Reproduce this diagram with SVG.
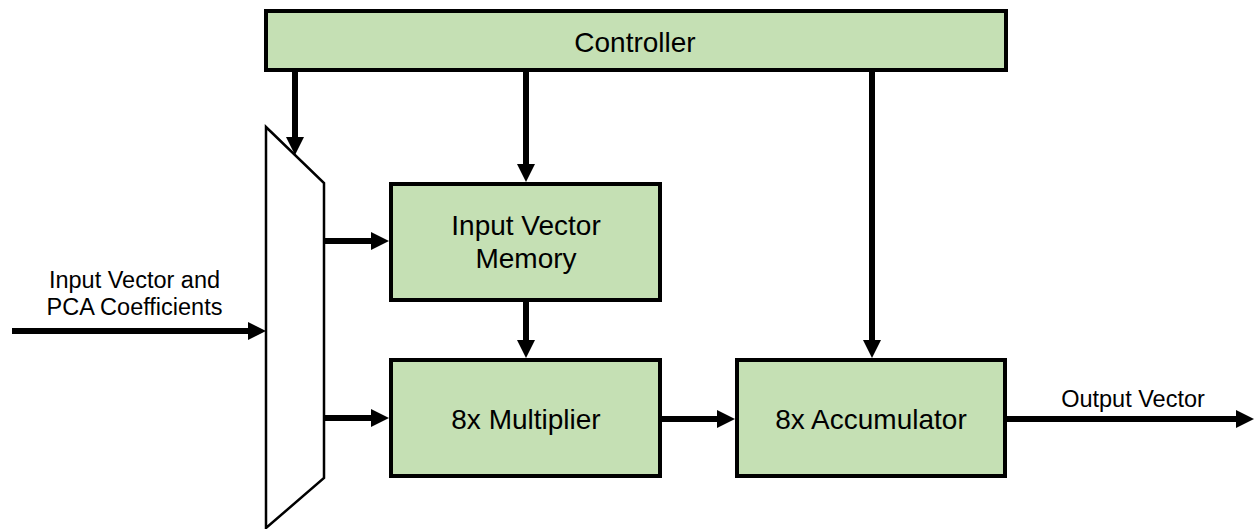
<svg xmlns="http://www.w3.org/2000/svg" width="1254" height="529" viewBox="0 0 1254 529">
  <style>
    .block { fill: #C5E0B4; stroke: #000; stroke-width: 4; }
    .mux { fill: #fff; stroke: #000; stroke-width: 2.5; stroke-linejoin: miter; }
    .wire { fill: none; stroke: #000; stroke-width: 6; marker-end: url(#head); }
    .big { font-family: "Liberation Sans", Arial, sans-serif; font-size: 28px; fill: #000; text-anchor: middle; }
    .small { font-family: "Liberation Sans", Arial, sans-serif; font-size: 23.5px; fill: #000; text-anchor: middle; }
  </style>
  <defs>
    <marker id="head" markerUnits="userSpaceOnUse" markerWidth="18" markerHeight="18" refX="0" refY="9" orient="auto" overflow="visible">
      <path d="M0,0 L18,9 L0,18 Z" fill="#000"/>
    </marker>
  </defs>
  <rect width="1254" height="529" fill="#fff"/>

  <g id="controller">
    <rect class="block" x="266" y="11" width="740" height="59"/>
    <text class="big" x="635" y="52">Controller</text>
  </g>

  <g id="mux">
    <polygon class="mux" points="266,127 324,183 324,478 266,528"/>
  </g>

  <g id="input-vector-memory">
    <rect class="block" x="391" y="184" width="269" height="116"/>
    <text class="big" x="526" y="235">Input Vector</text>
    <text class="big" x="526" y="268">Memory</text>
  </g>

  <g id="multiplier">
    <rect class="block" x="391" y="360" width="269" height="116"/>
    <text class="big" x="526" y="429">8x Multiplier</text>
  </g>

  <g id="accumulator">
    <rect class="block" x="737" y="360" width="268" height="116"/>
    <text class="big" x="871" y="429">8x Accumulator</text>
  </g>

  <g id="connectors">
    <line class="wire" x1="295" y1="72" x2="295" y2="137"/>
    <line class="wire" x1="526" y1="72" x2="526" y2="164"/>
    <line class="wire" x1="872" y1="72" x2="872" y2="340"/>
    <line class="wire" x1="324" y1="241" x2="371" y2="241"/>
    <line class="wire" x1="324" y1="418" x2="371" y2="418"/>
    <line class="wire" x1="526" y1="302" x2="526" y2="340"/>
    <line class="wire" x1="662" y1="419" x2="717" y2="419"/>
    <line class="wire" x1="12" y1="331" x2="248" y2="331"/>
    <line class="wire" x1="1007" y1="419" x2="1236" y2="419"/>
  </g>

  <g id="labels">
    <text class="small" x="134.5" y="288">Input Vector and</text>
    <text class="small" x="134.5" y="315">PCA Coefficients</text>
    <text class="small" x="1133" y="407">Output Vector</text>
  </g>
</svg>
